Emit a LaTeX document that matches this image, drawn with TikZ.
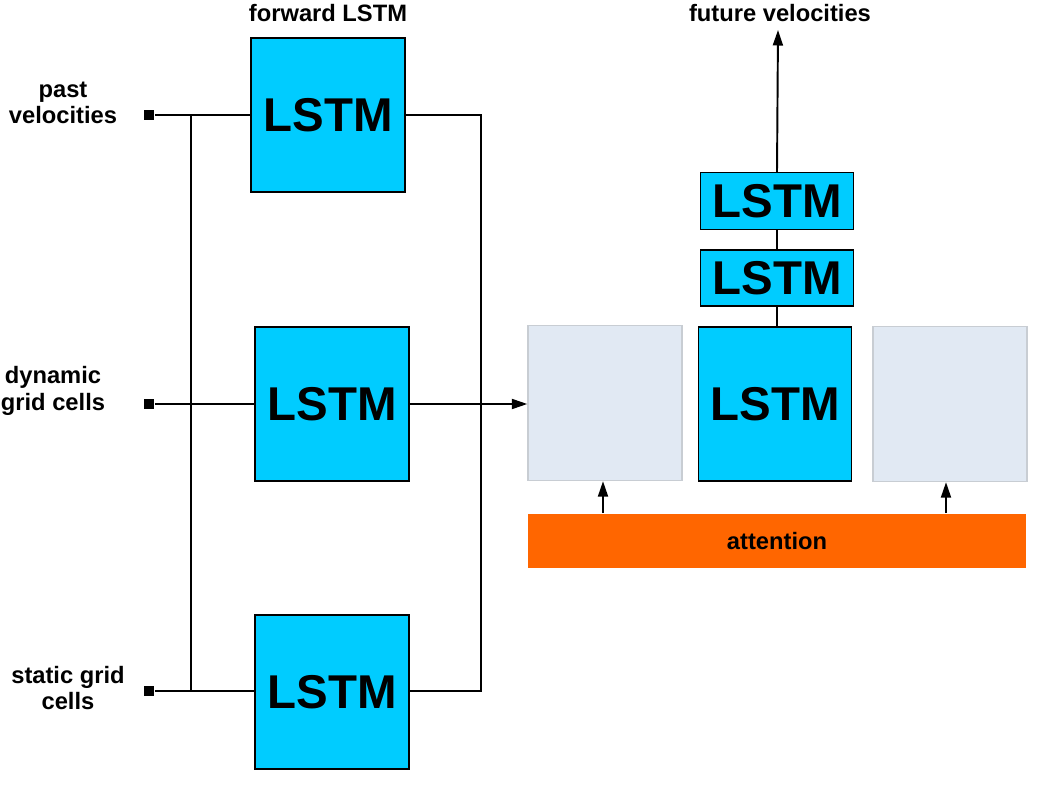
\documentclass[tikz,border=0pt]{standalone}
\usepackage{fontspec}
\setmainfont{Liberation Sans}
\usetikzlibrary{arrows.meta}

\definecolor{lstmblue}{HTML}{00CCFF}
\definecolor{cellgray}{HTML}{E1E9F3}
\definecolor{cellline}{HTML}{C8CDD3}
\definecolor{attorange}{HTML}{FF6600}

\begin{document}
\begin{tikzpicture}[x=0.02cm, y=-0.02cm, line width=1.1pt,
    lstm/.style={draw, fill=lstmblue, line width=0.8pt, font=\fontsize{27}{30}\selectfont\bfseries, inner sep=0pt},
    cell/.style={draw=cellline, fill=cellgray, line width=0.8pt, minimum width=3.08cm, minimum height=3.1cm},
    port/.style={fill=black, minimum size=0.2cm, inner sep=0pt},
    lbl/.style={font=\fontsize{13.5}{15}\selectfont\bfseries, align=center},
    arr/.style={-{Triangle[length=0.31cm, width=0.2cm]}}]
            \useasboundingbox (0,0) rectangle (1058,794);

            % encoder LSTMs, one for every input
            \node[lstm, minimum width=3.08cm, minimum height=3.08cm] (lstmA) at (328,115) {LSTM};
            \node[lstm, minimum width=3.08cm, minimum height=3.08cm] (lstmB) at (332,404) {LSTM};
            \node[lstm, minimum width=3.08cm, minimum height=3.08cm] (lstmC) at (332,692) {LSTM};
            \node[lbl] (fwd) at (328,13) {forward LSTM};

            % inputs
            \node[port] (inA) at (149,115) {};
            \node[port] (inB) at (149,404) {};
            \node[port] (inC) at (149,691) {};
            \node[lbl] (nameA) at (63,103) {past\\velocities};
            \node[lbl] (nameB) at (53,391) {dynamic\\grid cells};
            \node[lbl] (nameC) at (68,688) {static grid\\cells};

            \coordinate (jA) at (191,115);
            \coordinate (jC) at (191,691);
            \coordinate (oA) at (481,115);
            \coordinate (oC) at (481,691);

            \draw (inA) -- (lstmA.west);
            \draw (inB) -- (lstmB.west);
            \draw (inC) -- (lstmC.west |- inC);
            \draw (jA) -- (jC);
            \draw (lstmA.east) -- (oA) -- (oC) -- (lstmC.east |- oC);

            % decoder with attention
            \node[cell] (cellL) at (605,403) {};
            \node[cell] (cellR) at (950,404) {};
            \node[lstm, minimum width=3.06cm, minimum height=3.08cm] (lstmD) at (775,404) {LSTM};
            \node[lstm, minimum width=3.06cm, minimum height=1.12cm] (lstmE) at (777,278) {LSTM};
            \node[lstm, minimum width=3.06cm, minimum height=1.14cm] (lstmF) at (777,201) {LSTM};
            \node[fill=attorange, minimum width=9.98cm, minimum height=1.08cm, lbl] (att) at (777,541) {attention};
            \node[lbl] (future) at (780,13) {future velocities};
            \coordinate (out) at (778,30);

            \draw[arr] (lstmB.east) -- (cellL.west |- lstmB.east);
            \draw (lstmD.north -| lstmE.south) -- (lstmE.south);
            \draw (lstmE.north) -- (lstmF.south);
            \draw[arr] (lstmF.north) -- (out);
            \draw[arr] (att.north -| 603,0) -- (cellL.south -| 603,0);
            \draw[arr] (att.north -| 946,0) -- (cellR.south -| 946,0);
        \end{tikzpicture}
\end{document}
